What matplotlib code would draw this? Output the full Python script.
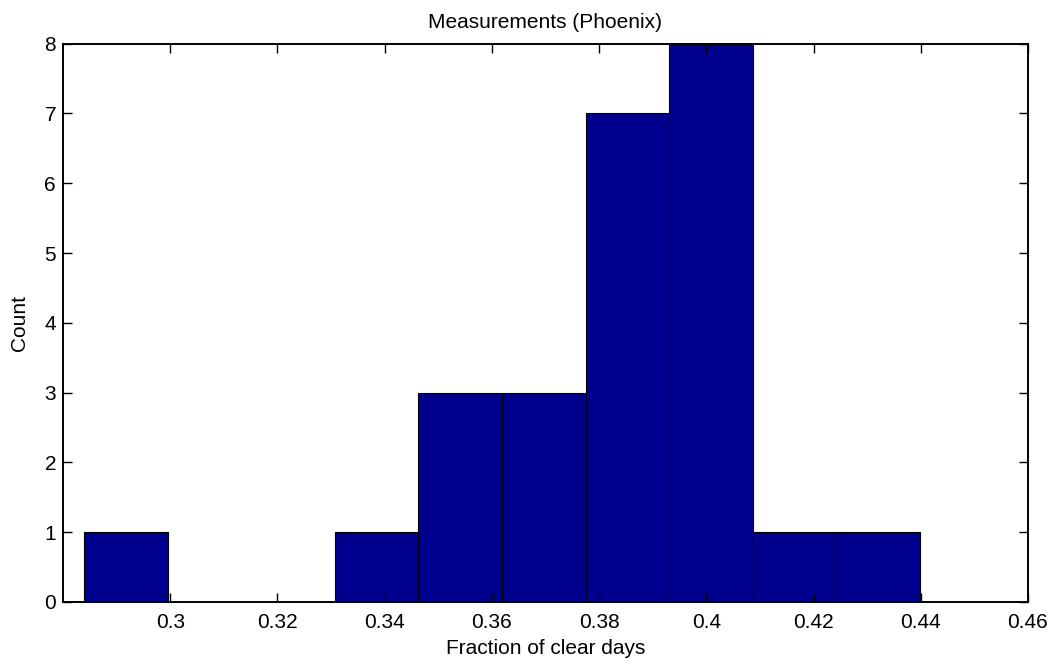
import matplotlib
matplotlib.use("Agg")
import matplotlib.pyplot as plt
import numpy as np

# Histogram of clear-day fractions, 10 bins
bin_edges = [0.2840, 0.2996, 0.3152, 0.3307, 0.3463, 0.3619, 0.3775, 0.3931, 0.4087, 0.4243, 0.4399]
counts = [1, 0, 0, 1, 3, 3, 7, 8, 1, 1]

plt.rcParams['font.family'] = ['Liberation Sans', 'DejaVu Sans']
plt.rcParams['font.size'] = 15

fig = plt.figure(figsize=(10.54, 6.64), dpi=100)
ax = fig.add_axes([0.0598, 0.0934, 0.9155, 0.8408])

edges = np.array(bin_edges)
ax.bar(edges[:-1], counts, width=np.diff(edges), align='edge',
       color='#00008F', edgecolor='black', linewidth=0.8)

ax.set_xlim(0.28, 0.46)
ax.set_ylim(0, 8)
ax.set_xticks([0.3, 0.32, 0.34, 0.36, 0.38, 0.4, 0.42, 0.44, 0.46])
ax.set_xticklabels(['0.3', '0.32', '0.34', '0.36', '0.38', '0.4', '0.42', '0.44', '0.46'])
ax.set_yticks(range(0, 9))

ax.tick_params(direction='in', length=6.5, width=1.0, top=True, right=True)
ax.tick_params(axis='x', pad=8)
ax.tick_params(axis='y', pad=5)
for s in ax.spines.values():
    s.set_linewidth(1.4)

ax.set_title('Measurements (Phoenix)', fontsize=15, pad=11)
ax.set_xlabel('Fraction of clear days', labelpad=5)
ax.set_ylabel('Count', labelpad=11)

fig.savefig('out.png', dpi=100)
